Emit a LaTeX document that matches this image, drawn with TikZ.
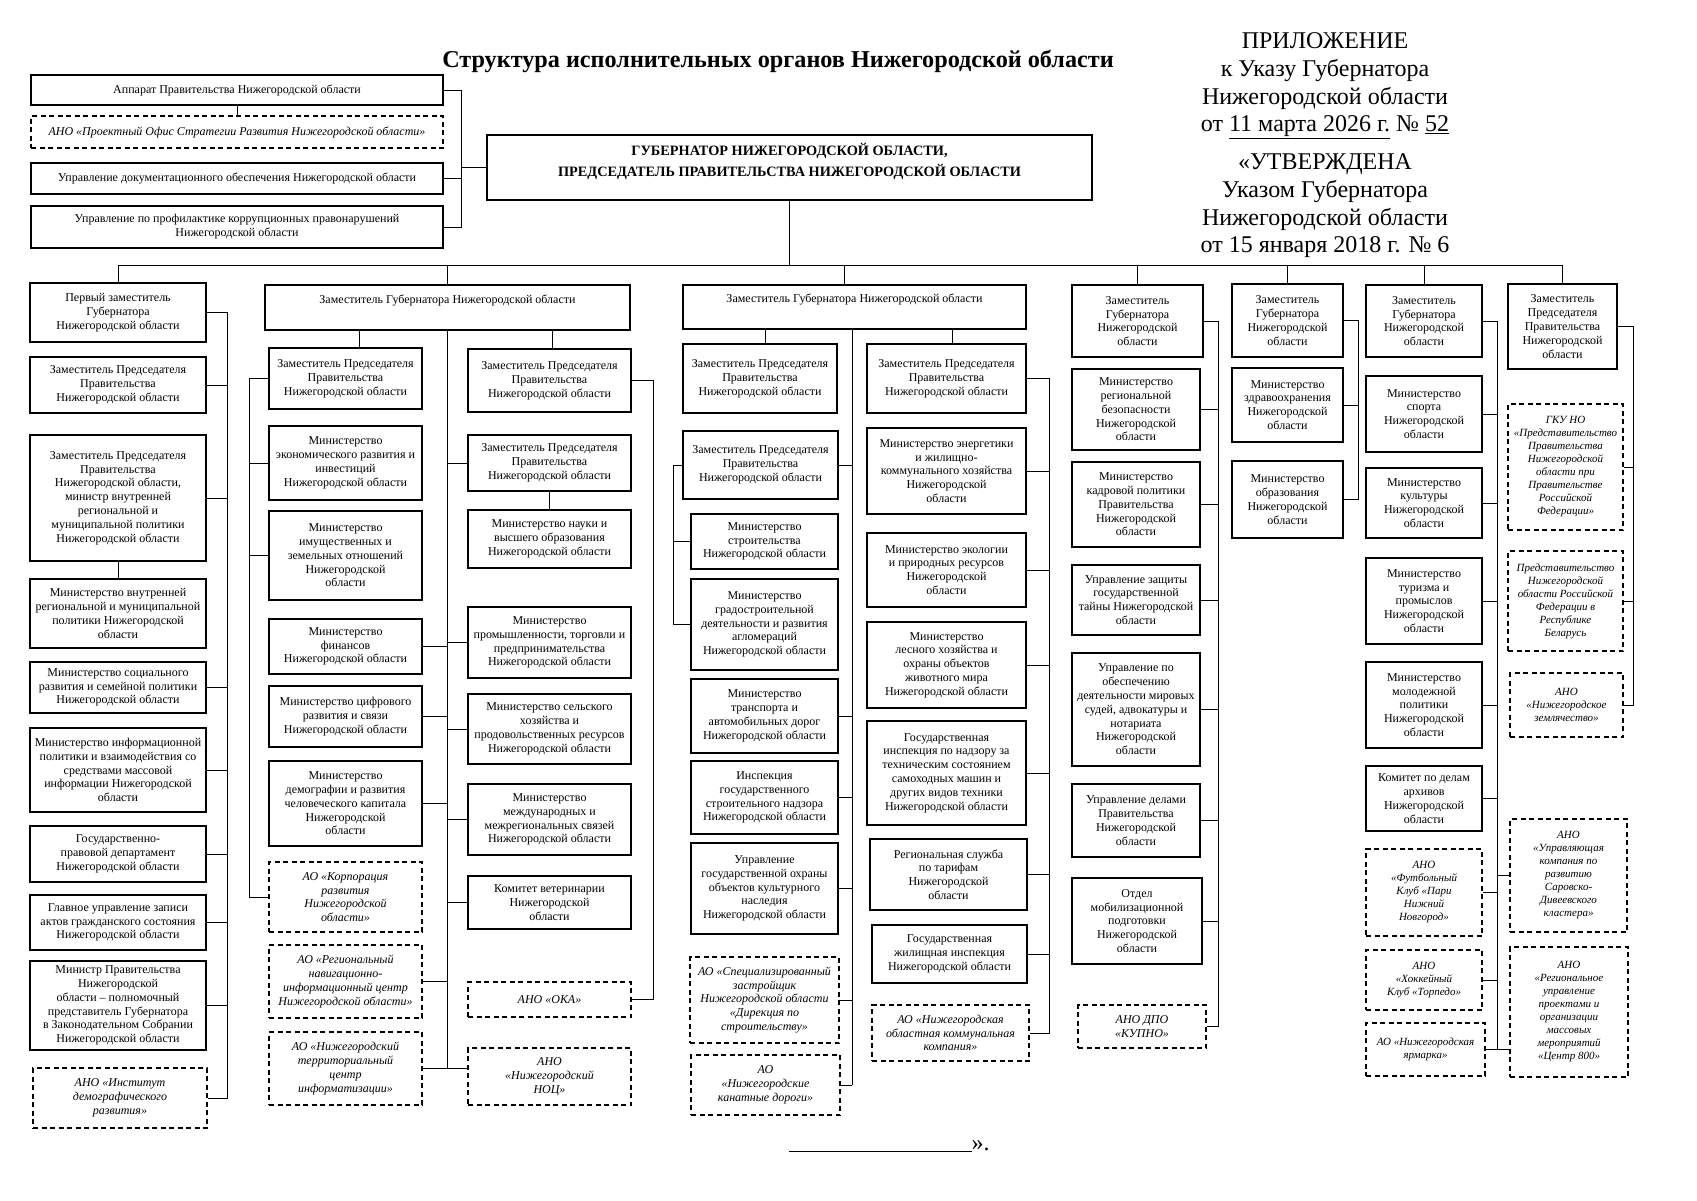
\documentclass[tikz,border=0pt]{standalone}
\usepackage{fontspec}
\setmainfont{Liberation Serif}
\newcommand{\boxfont}{\fontsize{12}{13.8}\selectfont}
\newcommand{\anofont}{\itshape\fontsize{12}{13.8}\selectfont}
\newcommand{\anosmall}{\itshape\fontsize{11}{13}\selectfont}
\newcommand{\govfont}{\bfseries\fontsize{14.3}{21}\selectfont}
\newcommand{\hdrfont}{\fontsize{24}{27.6}\selectfont}
\newcommand{\titlefont}{\bfseries\fontsize{24.2}{28}\selectfont}
\tikzset{
  link/.style={line width=1pt},
  orgbox/.style={rectangle, draw, line width=1.1pt, align=center, inner sep=1pt, font=\boxfont},
  anobox/.style={orgbox, dash pattern=on 5pt off 3.5pt, font=\anofont},
  topbox/.style={orgbox, text height=9pt, text depth=18pt},
  sz/.style 2 args={minimum width=#1, minimum height=#2}
}
\begin{document}
\begin{tikzpicture}[x=1pt, y=-1pt]
    \useasboundingbox (0,0) rectangle (1697,1200);

    % Title and header
    \node (title) at (778,61) [font=\titlefont] {Структура исполнительных органов Нижегородской области};
    \node (hdrA) at (1325,86) [font=\hdrfont, align=center] {ПРИЛОЖЕНИЕ\\к Указу Губернатора\\Нижегородской области\\от \underline{11 марта 2026 г.} № \underline{52}};
    \node (hdrB) at (1325,206) [font=\hdrfont, align=center] {«УТВЕРЖДЕНА\\Указом Губернатора\\Нижегородской области\\от 15 января 2018 г. № 6};

    % Governor and staff
    \node[orgbox, sz={605}{65}, font=\govfont, text height=31pt, text depth=14pt] (gov) at (789.5,167.5) {ГУБЕРНАТОР НИЖЕГОРОДСКОЙ ОБЛАСТИ,\\ПРЕДСЕДАТЕЛЬ ПРАВИТЕЛЬСТВА НИЖЕГОРОДСКОЙ ОБЛАСТИ};
    \node[orgbox, sz={412}{30}] (app) at (237,90) {Аппарат Правительства Нижегородской области};
    \node[anobox, sz={412}{32}] (anoPO) at (237,132) {АНО «Проектный Офис Стратегии Развития Нижегородской области»};
    \node[orgbox, sz={412}{31}] (upDoc) at (237,178.5) {Управление документационного обеспечения Нижегородской области};
    \node[orgbox, sz={412}{42}] (upKor) at (237,227) {Управление по профилактике коррупционных правонарушений\\Нижегородской области};

    % Column 1
    \node[orgbox, sz={176}{59}] (p1) at (118,312.5) {Первый заместитель\\Губернатора\\Нижегородской области};
    \node[orgbox, sz={176}{56}] (p2) at (118,385) {Заместитель Председателя\\Правительства\\Нижегородской области};
    \node[orgbox, sz={176}{126}] (p3) at (118,498) {Заместитель Председателя\\Правительства\\Нижегородской области,\\министр внутренней\\региональной и\\муниципальной политики\\Нижегородской области};
    \node[orgbox, sz={176}{69}] (p4) at (118,613.5) {Министерство внутренней\\региональной и муниципальной\\политики Нижегородской\\области};
    \node[orgbox, sz={176}{51}] (p5) at (118,687.5) {Министерство социального\\развития и семейной политики\\Нижегородской области};
    \node[orgbox, sz={176}{84}] (p6) at (118,770) {Министерство информационной\\политики и взаимодействия со\\средствами массовой\\информации Нижегородской\\области};
    \node[orgbox, sz={176}{56}] (p7) at (118,854) {Государственно-\\правовой департамент\\Нижегородской области};
    \node[orgbox, sz={176}{55}] (p8) at (118,922.5) {Главное управление записи\\актов гражданского состояния\\Нижегородской области};
    \node[orgbox, sz={176}{89}] (p9) at (118,1005.5) {Министр Правительства\\Нижегородской\\области – полномочный\\представитель Губернатора\\в Законодательном Собрании\\Нижегородской области};
    \node[anobox, sz={174}{60}] (p10) at (120,1098) {АНО «Институт\\демографического\\развития»};

    % Column 2
    \node[topbox, sz={365}{45}] (d2) at (447.5,307.5) {Заместитель Губернатора Нижегородской области};
    \node[orgbox, sz={153}{61}] (a1) at (345.5,378.5) {Заместитель Председателя\\Правительства\\Нижегородской области};
    \node[orgbox, sz={153}{74}] (a2) at (345.5,463) {Министерство\\экономического развития и\\инвестиций\\Нижегородской области};
    \node[orgbox, sz={153}{89}] (a3) at (345.5,555.5) {Министерство\\имущественных и\\земельных отношений\\Нижегородской\\области};
    \node[orgbox, sz={153}{55}] (a4) at (345.5,646.5) {Министерство\\финансов\\Нижегородской области};
    \node[orgbox, sz={153}{61}] (a5) at (345.5,716.5) {Министерство цифрового\\развития и связи\\Нижегородской области};
    \node[orgbox, sz={153}{85}] (a6) at (345.5,803.5) {Министерство\\демографии и развития\\человеческого капитала\\Нижегородской\\области};
    \node[anobox, sz={153}{70}] (a7) at (345.5,897) {АО «Корпорация\\развития\\Нижегородской\\области»};
    \node[anobox, sz={153}{73}] (a8) at (345.5,981.5) {АО «Региональный\\навигационно-\\информационный центр\\Нижегородской области»};
    \node[anobox, sz={153}{73}] (a9) at (345.5,1068.5) {АО «Нижегородский\\территориальный\\центр\\информатизации»};
    \node[orgbox, sz={163}{63}] (b1) at (549.5,380.5) {Заместитель Председателя\\Правительства\\Нижегородской области};
    \node[orgbox, sz={163}{56}] (b2) at (549.5,463) {Заместитель Председателя\\Правительства\\Нижегородской области};
    \node[orgbox, sz={163}{58}] (b3) at (549.5,539) {Министерство науки и\\высшего образования\\Нижегородской области};
    \node[orgbox, sz={163}{71}] (b4) at (549.5,642.5) {Министерство\\промышленности, торговли и\\предпринимательства\\Нижегородской области};
    \node[orgbox, sz={163}{70}] (b5) at (549.5,729) {Министерство сельского\\хозяйства и\\продовольственных ресурсов\\Нижегородской области};
    \node[orgbox, sz={163}{71}] (b6) at (549.5,819.5) {Министерство\\международных и\\межрегиональных связей\\Нижегородской области};
    \node[orgbox, sz={163}{53}] (b7) at (549.5,902.5) {Комитет ветеринарии\\Нижегородской\\области};
    \node[anobox, sz={163}{35}] (b8) at (549.5,999.5) {АНО «ОКА»};
    \node[anobox, sz={163}{57}] (b9) at (549.5,1076.5) {АНО\\«Нижегородский\\НОЦ»};

    % Column 3
    \node[topbox, sz={343}{44}] (d3) at (854.5,307) {Заместитель Губернатора Нижегородской области};
    \node[orgbox, sz={154}{69}] (c1) at (760,378.5) {Заместитель Председателя\\Правительства\\Нижегородской области};
    \node[orgbox, sz={155}{68}] (c2) at (760.5,465) {Заместитель Председателя\\Правительства\\Нижегородской области};
    \node[orgbox, sz={147}{55}] (c3) at (764.5,541.5) {Министерство\\строительства\\Нижегородской области};
    \node[orgbox, sz={147}{91}] (c4) at (764.5,624.5) {Министерство\\градостроительной\\деятельности и развития\\агломераций\\Нижегородской области};
    \node[orgbox, sz={147}{74}] (c5) at (764.5,716) {Министерство\\транспорта и\\автомобильных дорог\\Нижегородской области};
    \node[orgbox, sz={147}{73}] (c6) at (764.5,797.5) {Инспекция\\государственного\\строительного надзора\\Нижегородской области};
    \node[orgbox, sz={147}{91}] (c7) at (764.5,888.5) {Управление\\государственной охраны\\объектов культурного\\наследия\\Нижегородской области};
    \node[anobox, sz={149}{86}] (c8) at (764.5,1000) {АО «Специализированный\\застройщик\\Нижегородской области\\«Дирекция по\\строительству»};
    \node[anobox, sz={149}{60}] (c9) at (765.5,1085) {АО\\«Нижегородские\\канатные дороги»};
    \node[orgbox, sz={159}{69}] (e1) at (946.5,378.5) {Заместитель Председателя\\Правительства\\Нижегородской области};
    \node[orgbox, sz={159}{86}] (e2) at (946.5,471) {Министерство энергетики\\и жилищно-\\коммунального хозяйства\\Нижегородской\\области};
    \node[orgbox, sz={159}{74}] (e3) at (946.5,570) {Министерство экологии\\и природных ресурсов\\Нижегородской\\области};
    \node[orgbox, sz={159}{86}] (e4) at (946.5,665) {Министерство\\лесного хозяйства и\\охраны объектов\\животного мира\\Нижегородской области};
    \node[orgbox, sz={159}{104}] (e5) at (946.5,773) {Государственная\\инспекция по надзору за\\техническим состоянием\\самоходных машин и\\других видов техники\\Нижегородской области};
    \node[orgbox, sz={157}{71}] (e6) at (948.5,874.5) {Региональная служба\\по тарифам\\Нижегородской\\области};
    \node[orgbox, sz={155}{58}] (e7) at (949.5,954) {Государственная\\жилищная инспекция\\Нижегородской области};
    \node[anobox, sz={157}{56}] (e8) at (950.5,1033) {АО «Нижегородская\\областная коммунальная\\компания»};

    % Column 4
    \node[orgbox, sz={131}{72}] (g1) at (1137.5,321) {Заместитель\\Губернатора\\Нижегородской\\области};
    \node[orgbox, sz={128}{81}] (g2) at (1136,409.5) {Министерство\\региональной\\безопасности\\Нижегородской\\области};
    \node[orgbox, sz={128}{85}] (g3) at (1136,504.5) {Министерство\\кадровой политики\\Правительства\\Нижегородской\\области};
    \node[orgbox, sz={128}{70}] (g4) at (1136,600) {Управление защиты\\государственной\\тайны Нижегородской\\области};
    \node[orgbox, sz={128}{113}] (g5) at (1136,709.5) {Управление по\\обеспечению\\деятельности мировых\\судей, адвокатуры и\\нотариата\\Нижегородской\\области};
    \node[orgbox, sz={128}{73}] (g6) at (1136,820.5) {Управление делами\\Правительства\\Нижегородской\\области};
    \node[orgbox, sz={130}{86}] (g7) at (1137,921) {Отдел\\мобилизационной\\подготовки\\Нижегородской\\области};
    \node[anobox, sz={128}{43}] (g8) at (1142,1026.5) {АНО ДПО\\«КУПНО»};

    % Column 5
    \node[orgbox, sz={111}{73}] (h1) at (1287.5,320.5) {Заместитель\\Губернатора\\Нижегородской\\области};
    \node[orgbox, sz={111}{74}] (h2) at (1287.5,405) {Министерство\\здравоохранения\\Нижегородской\\области};
    \node[orgbox, sz={111}{77}] (h3) at (1287.5,499.5) {Министерство\\образования\\Нижегородской\\области};

    % Column 6
    \node[orgbox, sz={116}{72}] (i1) at (1424,321) {Заместитель\\Губернатора\\Нижегородской\\области};
    \node[orgbox, sz={116}{76}] (i2) at (1424,414) {Министерство\\спорта\\Нижегородской\\области};
    \node[orgbox, sz={116}{70}] (i3) at (1424,503) {Министерство\\культуры\\Нижегородской\\области};
    \node[orgbox, sz={116}{86}] (i4) at (1424,601) {Министерство\\туризма и\\промыслов\\Нижегородской\\области};
    \node[orgbox, sz={116}{86}] (i5) at (1424,705) {Министерство\\молодежной\\политики\\Нижегородской\\области};
    \node[orgbox, sz={116}{65}] (i6) at (1424,798.5) {Комитет по делам\\архивов\\Нижегородской\\области};
    \node[anobox, sz={116}{87}, font=\anosmall] (i7) at (1424,892.5) {АНО\\«Футбольный\\Клуб «Пари\\Нижний\\Новгород»};
    \node[anobox, sz={116}{60}, font=\anosmall] (i8) at (1424,980) {АНО\\«Хоккейный\\Клуб «Торпедо»};
    \node[anobox, sz={119}{53}, font=\anosmall] (i9) at (1425.5,1049.5) {АО «Нижегородская\\ярмарка»};

    % Column 7
    \node[orgbox, sz={109}{85}] (j1) at (1562.5,326.5) {Заместитель\\Председателя\\Правительства\\Нижегородской\\области};
    \node[anobox, sz={115}{126}, font=\anosmall] (j2) at (1565.5,467) {ГКУ НО\\«Представительство\\Правительства\\Нижегородской\\области при\\Правительстве\\Российской\\Федерации»};
    \node[anobox, sz={115}{100}, font=\anosmall] (j3) at (1565.5,601) {Представительство\\Нижегородской\\области Российской\\Федерации в\\Республике\\Беларусь};
    \node[anobox, sz={113}{64}, font=\anosmall] (j4) at (1566.5,705) {АНО\\«Нижегородское\\землячество»};
    \node[anobox, sz={117}{113}, font=\anosmall] (k5) at (1568.5,875.5) {АНО\\«Управляющая\\компания по\\развитию\\Саровско-\\Дивеевского\\кластера»};
    \node[anobox, sz={118}{130}, font=\anosmall] (k6) at (1569,1012) {АНО\\«Региональное\\управление\\проектами и\\организации\\массовых\\мероприятий\\«Центр 800»};

    % Bus lines
    \coordinate (bus) at (0,265);
    \coordinate (tlbus) at (461,0);
    \coordinate (pbus) at (227,0);
    \coordinate (abus) at (249,0);
    \coordinate (mbus2) at (447,0);
    \coordinate (bbus) at (653,0);
    \coordinate (cbus) at (673,0);
    \coordinate (mbus3) at (852,0);
    \coordinate (ebus) at (1049,0);
    \coordinate (gbus) at (1218,0);
    \coordinate (hbus) at (1358,0);
    \coordinate (ibus) at (1497,0);
    \coordinate (jbus) at (1633,0);

    % Governor connections
    \draw[link] (gov.south) -- (gov.south |- bus);
    \draw[link] (p1.north) |- (j1.north |- bus) -- (j1.north);
    \foreach \n in {d2,g1,h1,i1}
        \draw[link] (\n.north) -- (\n.north |- bus);
    \draw[link] ([xshift=-10]d3.north) -- ([xshift=-10]d3.north |- bus);
    \draw[link] (app.south) -- (anoPO.north);
    \draw[link] (app.east) -| (tlbus |- upKor.east) -- (upKor.east);
    \draw[link] (upDoc.east) -- (upDoc.east -| tlbus);
    \draw[link] (gov.west) -- (gov.west -| tlbus);

    % Column 1 links
    \draw[link] (p1.east) -| (pbus |- p10.east) -- (p10.east);
    \foreach \n in {p2,p3,p5,p6,p7,p8,p9}
        \draw[link] (\n.east) -- (\n.east -| pbus);
    \draw[link] (p3.south) -- (p4.north);

    % Column 2 links
    \draw[link] ([xshift=14]a1.north) -- ([xshift=14]a1.north |- d2.south);
    \draw[link] (a1.west) -| (abus |- a7.west) -- (a7.west);
    \foreach \n in {a2,a3}
        \draw[link] (\n.west) -- (\n.west -| abus);
    \draw[link] (mbus2 |- d2.south) -- (mbus2 |- a9.east);
    \foreach \n in {a4,a5,a6,a8,a9}
        \draw[link] (\n.east) -- (\n.east -| mbus2);
    \foreach \n in {b2,b4,b5,b6,b7}
        \draw[link] (\n.west) -- (\n.west -| mbus2);
    \draw[link] (b9.west |- a9.east) -- (mbus2 |- a9.east);
    \draw[link] ([xshift=3]b1.north) -- ([xshift=3]b1.north |- d2.south);
    \draw[link] (b1.east) -| (bbus |- b8.east) -- (b8.east);
    \draw[link] (b2.south) -- (b3.north);

    % Column 3 links
    \draw[link] ([xshift=5]c1.north) -- ([xshift=5]c1.north |- d3.south);
    \draw[link] (c2.west) -| (cbus |- c4.west) -- (c4.west);
    \draw[link] (c3.west) -- (c3.west -| cbus);
    \draw[link] (mbus3 |- d3.south) -- (mbus3 |- c9.east);
    \foreach \n in {c2,c5,c6,c7,c8,c9}
        \draw[link] (\n.east) -- (\n.east -| mbus3);
    \draw[link] ([xshift=6]e1.north) -- ([xshift=6]e1.north |- d3.south);
    \draw[link] (e1.east) -| (ebus |- e8.east) -- (e8.east);
    \foreach \n in {e2,e3,e4,e5,e6,e7}
        \draw[link] (\n.east) -- (\n.east -| ebus);

    % Columns 4-7 links
    \draw[link] (g1.east) -| (gbus |- g8.east) -- (g8.east);
    \foreach \n in {g2,g3,g4,g5,g6,g7}
        \draw[link] (\n.east) -- (\n.east -| gbus);
    \draw[link] (h1.east) -| (hbus |- h3.east) -- (h3.east);
    \draw[link] (h2.east) -- (h2.east -| hbus);
    \draw[link] (i1.east) -| (ibus |- i9.east) -- (i9.east);
    \foreach \n in {i2,i3,i4,i5,i6,i7,i8}
        \draw[link] (\n.east) -- (\n.east -| ibus);
    \draw[link] (k5.west) -- (k5.west -| ibus);
    \draw[link] (k6.west |- i9.east) -- (ibus |- i9.east);
    \draw[link] (j1.east) -| (jbus |- j4.east) -- (j4.east);
    \foreach \n in {j2,j3}
        \draw[link] (\n.east) -- (\n.east -| jbus);

    % Closing mark
    \node[anchor=base west, font=\hdrfont] (endmark) at (785,1150) {\underline{\hspace{183pt}}».};
\end{tikzpicture}
\end{document}
